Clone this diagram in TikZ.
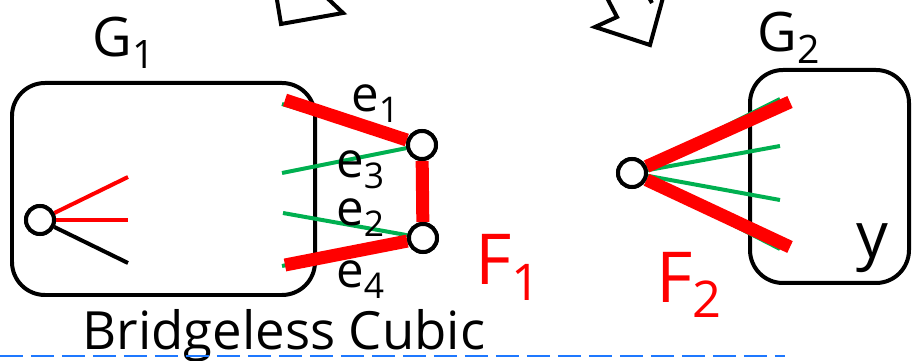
\documentclass[tikz,border=0pt]{standalone}
\usepackage{fontspec}
\setmainfont{Open Sans}
\usepackage{graphicx}
\definecolor{edgegreen}{RGB}{0,176,80}
\definecolor{cutblue}{RGB}{30,120,255}
\newcommand{\lowsub}[1]{\raisebox{-.22em}{\scalebox{.72}{#1}}}
\tikzset{
  vtx/.style={circle,draw,fill=white,line width=0.08cm,minimum size=0.56cm,inner sep=0pt},
  heavy/.style={red,line width=0.26cm},
  light/.style={line width=0.08cm},
  gbox/.style={line width=0.08cm,rounded corners=0.66cm},
  lbl/.style={anchor=base west,inner sep=0pt,font=\fontsize{28}{32}\selectfont},
  biglbl/.style={lbl,font=\fontsize{31}{36}\selectfont},
  flbl/.style={lbl,red,font=\fontsize{40}{46}\selectfont}
}
\begin{document}
\begin{tikzpicture}[x=0.02cm,y=-0.02cm]
\useasboundingbox (0,0) rectangle (913,361);

% pieces of the two big arrows, cut by the top edge
\begin{scope}
\clip (0,0) rectangle (913,361);
\draw[light,line join=miter] (276,-6) -- (281,24) -- (343,13) -- (323,-6);
\draw[light,line join=miter] (605,-6) -- (617,17) -- (595,27) -- (650,45) -- (664,-6);
\draw[light] (647,-6) -- (652,3);
\end{scope}

% G1
\draw[gbox] (12,83) rectangle (315,295);
\node[biglbl] (g1) at (92,57) {G\lowsub{1}};

\node[vtx] (w) at (40,220) {};
\coordinate (wa) at (128,177);
\coordinate (wb) at (128,220);
\coordinate (wc) at (128,263);
\draw[light,red] (w) -- (wa);
\draw[light,red] (w) -- (wb);
\draw[light] (w) -- (wc);
\node[vtx] (w) at (40,220) {};

% the cut F1
\coordinate (p1) at (282,104);
\coordinate (p3) at (282,173);
\coordinate (p2) at (283,213);
\coordinate (p4) at (282,266);
\coordinate (q1) at (285,100);
\coordinate (q4) at (285,265);
\node[vtx] (s) at (422,145) {};
\node[vtx] (t) at (423,238) {};
\draw[light,edgegreen] (p1) -- (s);
\draw[light,edgegreen] (p3) -- (s);
\draw[light,edgegreen] (p2) -- (t);
\draw[light,edgegreen] (p4) -- (t);
\draw[heavy] (q1) -- (s);
\draw[heavy] (q4) -- (t);
\draw[heavy] (s) -- (t);
\node[vtx] at (s) {};
\node[vtx] at (t) {};

\node[lbl] (e1) at (351,112) {e\lowsub{1}};
\node[lbl] (e3) at (336,178) {e\lowsub{3}};
\node[lbl] (e2) at (336,226) {e\lowsub{2}};
\node[lbl] (e4) at (336,288) {e\lowsub{4}};
\node[flbl] (f1) at (475,285) {F\lowsub{1}};

\node[lbl,font=\fontsize{30}{36}\selectfont] (bc) at (82,349) {Bridgeless Cubic};

% G2
\begin{scope}
\clip (0,0) rectangle (913,361);
\draw[gbox] (750,70) rectangle (909,283);
\end{scope}
\node[biglbl] (g2) at (757,52) {G\lowsub{2}};
\node[lbl,font=\fontsize{36}{40}\selectfont] (y) at (856,257) {y};

\node[vtx] (v) at (632,173) {};
\coordinate (r1) at (790,102);
\coordinate (r2) at (790,247);
\coordinate (h1) at (780,99);
\coordinate (h2) at (780,146);
\coordinate (h3) at (780,200);
\coordinate (h4) at (780,249);
\draw[light,edgegreen] (v) -- (h1);
\draw[light,edgegreen] (v) -- (h2);
\draw[light,edgegreen] (v) -- (h3);
\draw[light,edgegreen] (v) -- (h4);
\draw[heavy] (v) -- (r1);
\draw[heavy] (v) -- (r2);
\node[vtx] at (v) {};
\node[flbl] (f2) at (656,302) {F\lowsub{2}};

% cut line
\coordinate (c0) at (0,356);
\coordinate (c1) at (785,356);
\draw[cutblue,line width=0.05cm,dash pattern=on 0.46cm off 0.16cm] (c0) -- (c1);
\end{tikzpicture}
\end{document}
